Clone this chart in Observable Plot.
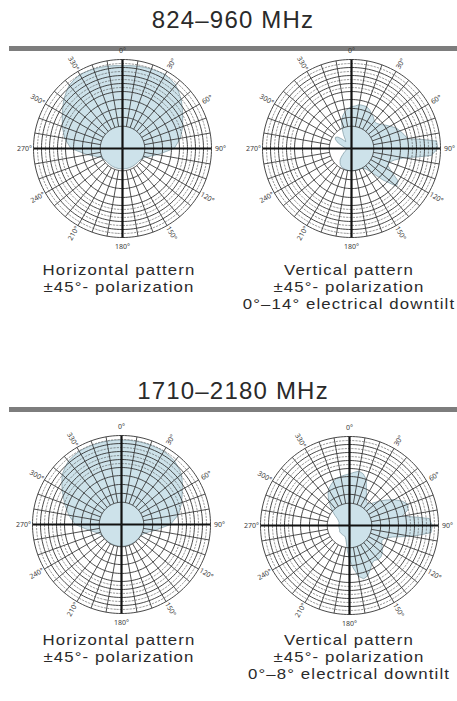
<!DOCTYPE html>
<html>
<head>
<meta charset="utf-8">
<script src="https://cdn.jsdelivr.net/npm/d3@7"></script>
<script src="https://cdn.jsdelivr.net/npm/@observablehq/plot@0.6"></script>
<style>
  body { margin: 0; background: #fff; }
  #page { position: relative; width: 457px; height: 701px; overflow: hidden; background: #fff;
          font-family: "Liberation Sans", Arial, Helvetica, sans-serif; color: #2a2a2a; }
  .title { position: absolute; left: 9px; width: 448px; text-align: center; font-size: 24px;
           line-height: 24px; letter-spacing: 1.2px; white-space: nowrap; }
  .rule { position: absolute; left: 9px; width: 448px; height: 5px; background: #7d7d7d; }
  .panel { position: absolute; width: 224px; height: 224px; }
  .cap { position: absolute; width: 240px; height: 17px; text-align: center; font-size: 15px;
         line-height: 17px; letter-spacing: 1px; white-space: nowrap;
         transform: scaleX(1.12); transform-origin: 50% 50%; }
</style>
</head>
<body>
<div id="page"></div>
<script>
// Frequency bands and captions
const bands = ["824–960 MHz", "1710–2180 MHz"];
const hCaption = ["Horizontal pattern", "±45°- polarization"];
const vCaptions = [
  ["Vertical pattern", "±45°- polarization", "0°–14° electrical downtilt"],
  ["Vertical pattern", "±45°- polarization", "0°–8° electrical downtilt"]
];

// Angle labels around the dial
const dialLabels = [0, 30, 60, 90, 120, 150, 180, 210, 240, 270, 300, 330];

// Horizontal patterns: relative radius every 10°, clockwise from 0° (top)
const hAngles = [0, 10, 20, 30, 40, 50, 60, 70, 80, 90, 100, 110, 120, 130, 140, 150, 160, 170,
                 180, 190, 200, 210, 220, 230, 240, 250, 260, 270, 280, 290, 300, 310, 320, 330, 340, 350];
const hLow  = [0.93, 0.94, 0.95, 0.96, 0.93, 0.86, 0.78, 0.72, 0.66, 0.58, 0.40, 0.28, 0.24, 0.23, 0.23, 0.23, 0.23, 0.23,
               0.23, 0.23, 0.23, 0.23, 0.23, 0.23, 0.24, 0.28, 0.40, 0.58, 0.66, 0.72, 0.78, 0.86, 0.93, 0.96, 0.95, 0.94];
const hHigh = [0.95, 0.95, 0.95, 0.95, 0.93, 0.88, 0.79, 0.72, 0.65, 0.55, 0.38, 0.28, 0.25, 0.245, 0.245, 0.245, 0.245, 0.245,
               0.245, 0.245, 0.245, 0.245, 0.245, 0.245, 0.25, 0.28, 0.37, 0.52, 0.60, 0.68, 0.77, 0.87, 0.93, 0.95, 0.95, 0.95];

// Vertical patterns: relative radius every 5°, clockwise from 0° (top)
const vAngles = [0, 5, 10, 15, 20, 25, 30, 35, 40, 45, 50, 55, 60, 65, 70, 75, 80, 85,
                 90, 95, 100, 105, 110, 115, 120, 125, 130, 135, 140, 145, 150, 155, 160, 165, 170, 175,
                 180, 185, 190, 195, 200, 205, 210, 215, 220, 225, 230, 235, 240, 245, 250, 255, 260, 265,
                 270, 275, 280, 285, 290, 295, 300, 305, 310, 315, 320, 325, 330, 335, 340, 345, 350, 355];
const vLow  = [0.47, 0.48, 0.50, 0.50, 0.50, 0.48, 0.45, 0.43, 0.40, 0.40, 0.42, 0.46, 0.50, 0.55, 0.58, 0.61, 0.64, 0.96,
               0.97, 0.90, 0.60, 0.50, 0.45, 0.45, 0.52, 0.64, 0.66, 0.50, 0.35, 0.28, 0.26, 0.25, 0.25, 0.25, 0.25, 0.25,
               0.25, 0.25, 0.25, 0.25, 0.24, 0.24, 0.23, 0.22, 0.20, 0.18, 0.15, 0.12, 0.10, 0.08, 0.07, 0.06, 0.06, 0.06,
               0.06, 0.07, 0.08, 0.10, 0.14, 0.18, 0.21, 0.22, 0.20, 0.15, 0.10, 0.12, 0.18, 0.25, 0.32, 0.38, 0.42, 0.45];
const vHigh = [0.58, 0.60, 0.62, 0.60, 0.55, 0.45, 0.38, 0.33, 0.32, 0.35, 0.42, 0.50, 0.58, 0.65, 0.70, 0.68, 0.60, 0.90,
               0.93, 0.92, 0.70, 0.50, 0.42, 0.40, 0.42, 0.45, 0.48, 0.50, 0.50, 0.48, 0.50, 0.55, 0.60, 0.62, 0.58, 0.48,
               0.38, 0.28, 0.20, 0.16, 0.14, 0.13, 0.13, 0.13, 0.13, 0.13, 0.13, 0.13, 0.13, 0.12, 0.12, 0.12, 0.12, 0.12,
               0.12, 0.12, 0.12, 0.12, 0.13, 0.14, 0.16, 0.20, 0.25, 0.30, 0.36, 0.42, 0.47, 0.50, 0.53, 0.55, 0.56, 0.57];

// Dial grid
const solidRings = [0.25, 0.35, 0.45, 0.55, 0.64, 0.73, 0.82, 0.91, 1.0];
const dashedRings = [0.685, 0.775, 0.865, 0.955];
const spokeAngles = [10, 20, 30, 40, 50, 60, 70, 80, 100, 110, 120, 130, 140, 150, 160, 170,
                     190, 200, 210, 220, 230, 240, 250, 260, 280, 290, 300, 310, 320, 330, 340, 350];
const axisAngles = [0, 90, 180, 270];

// Polar coordinates on an azimuthal projection centred on the pole:
// bearing θ (clockwise from top) -> longitude, relative radius -> latitude
const lon = (t) => 180 - t;
const lat = (r) => 90 - 90 * r;
const EXTENT = 112 / 89;

function ringGeom(r) {
  return d3.geoCircle().center([0, 90]).radius(90 * r).precision(2)();
}

function patternShape(angles, radii) {
  const ring = angles.map((a, i) => [lon(a), lat(radii[i])]);
  ring.push(ring[0]);
  return {type: "Polygon", coordinates: [ring]};
}

function dial(angles, radii) {
  return Plot.plot({
    width: 224,
    height: 224,
    margin: 0,
    style: {background: "transparent", overflow: "visible"},
    projection: {
      type: "azimuthal-equidistant",
      rotate: [0, -90],
      domain: d3.geoCircle().center([0, 90]).radius(90 * EXTENT)()
    },
    marks: [
      Plot.geo(patternShape(angles, radii), {fill: "#cde2ea", stroke: "#7d98a2", strokeWidth: 0.7}),
      Plot.geo(dashedRings, {geometry: ringGeom, fill: "none", stroke: "#555", strokeWidth: 0.6, strokeDasharray: "1.5,1.8"}),
      Plot.geo(solidRings, {geometry: ringGeom, fill: "none", stroke: "#333", strokeWidth: 0.9}),
      Plot.link(spokeAngles, {
        x1: (a) => lon(a), y1: () => lat(0.25),
        x2: (a) => lon(a), y2: () => lat(1),
        stroke: "#333", strokeWidth: 0.85
      }),
      Plot.link(axisAngles, {
        x1: (a) => lon(a), y1: () => lat(0),
        x2: (a) => lon(a), y2: () => lat(0.999),
        stroke: "#111", strokeWidth: 2.2
      }),
      Plot.text(dialLabels, {
        x: (a) => lon(a),
        y: () => lat(1.1),
        text: (a) => `${a}°`,
        rotate: (a) => (a % 90 === 0 ? 0 : a < 180 ? a - 90 : a - 270),
        fontSize: 7,
        fill: "#3a3a3a"
      })
    ]
  });
}

const page = document.getElementById("page");
function place(el, left, top) {
  el.style.left = left + "px";
  el.style.top = top + "px";
  page.appendChild(el);
  return el;
}
function div(cls, text) {
  const d = document.createElement("div");
  d.className = cls;
  d.textContent = text;
  return d;
}

// Band headings with rules
place(div("title", bands[0]), 9, 8);
place(div("rule", ""), 9, 46);
place(div("title", bands[1]), 9, 379);
place(div("rule", ""), 9, 407);

// Dials
place(div("panel", ""), 10, 36).appendChild(dial(hAngles, hLow));
place(div("panel", ""), 239, 36).appendChild(dial(vAngles, vLow));
place(div("panel", ""), 9, 412).appendChild(dial(hAngles, hHigh));
place(div("panel", ""), 237, 413).appendChild(dial(vAngles, vHigh));

// Captions, one line per block
function caption(lines, cx, top) {
  lines.forEach((t, i) => place(div("cap", t), cx - 120, top + 17 * i));
}
caption(hCaption, 119, 261);
caption(vCaptions[0], 349, 261);
caption(hCaption, 119, 631);
caption(vCaptions[1], 349, 631);
</script>
</body>
</html>
